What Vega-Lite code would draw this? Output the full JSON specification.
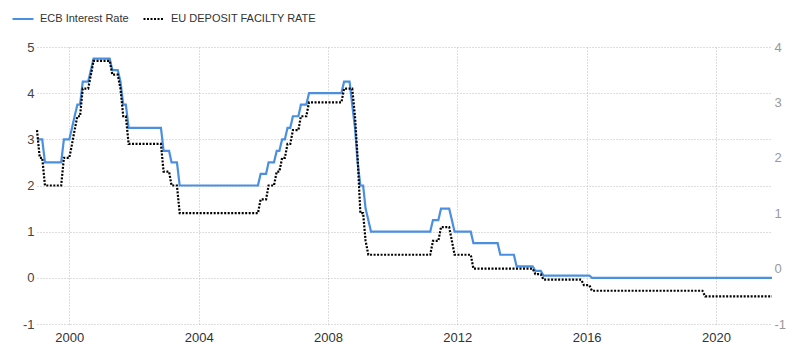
{
  "$schema": "https://vega.github.io/schema/vega-lite/v6.json",
  "width": 735,
  "height": 277,
  "autosize": {"type": "none"},
  "padding": {"left": 37, "top": 47, "right": 28, "bottom": 29},
  "background": "white",
  "config": {
    "view": {"stroke": null},
    "font": "Liberation Sans",
    "axis": {
      "domain": false,
      "ticks": false,
      "title": null,
      "grid": true,
      "gridColor": "#bdbdbd",
      "gridDash": [1, 2],
      "gridWidth": 1,
      "labelFont": "Liberation Sans",
      "labelFontSize": 13
    }
  },
  "data": {
    "values": [
      {"date": "1999-01-01", "series": "ECB Interest Rate", "value": 3.0},
      {"date": "1999-03-01", "series": "ECB Interest Rate", "value": 3.0},
      {"date": "1999-04-01", "series": "ECB Interest Rate", "value": 2.5},
      {"date": "1999-10-01", "series": "ECB Interest Rate", "value": 2.5},
      {"date": "1999-11-01", "series": "ECB Interest Rate", "value": 3.0},
      {"date": "2000-01-01", "series": "ECB Interest Rate", "value": 3.0},
      {"date": "2000-02-01", "series": "ECB Interest Rate", "value": 3.25},
      {"date": "2000-03-01", "series": "ECB Interest Rate", "value": 3.5},
      {"date": "2000-04-01", "series": "ECB Interest Rate", "value": 3.75},
      {"date": "2000-05-01", "series": "ECB Interest Rate", "value": 3.75},
      {"date": "2000-06-01", "series": "ECB Interest Rate", "value": 4.25},
      {"date": "2000-08-01", "series": "ECB Interest Rate", "value": 4.25},
      {"date": "2000-09-01", "series": "ECB Interest Rate", "value": 4.5},
      {"date": "2000-10-01", "series": "ECB Interest Rate", "value": 4.75},
      {"date": "2001-04-01", "series": "ECB Interest Rate", "value": 4.75},
      {"date": "2001-05-01", "series": "ECB Interest Rate", "value": 4.5},
      {"date": "2001-07-01", "series": "ECB Interest Rate", "value": 4.5},
      {"date": "2001-08-01", "series": "ECB Interest Rate", "value": 4.25},
      {"date": "2001-09-01", "series": "ECB Interest Rate", "value": 3.75},
      {"date": "2001-10-01", "series": "ECB Interest Rate", "value": 3.75},
      {"date": "2001-11-01", "series": "ECB Interest Rate", "value": 3.25},
      {"date": "2002-11-01", "series": "ECB Interest Rate", "value": 3.25},
      {"date": "2002-12-01", "series": "ECB Interest Rate", "value": 2.75},
      {"date": "2003-02-01", "series": "ECB Interest Rate", "value": 2.75},
      {"date": "2003-03-01", "series": "ECB Interest Rate", "value": 2.5},
      {"date": "2003-05-01", "series": "ECB Interest Rate", "value": 2.5},
      {"date": "2003-06-01", "series": "ECB Interest Rate", "value": 2.0},
      {"date": "2005-11-01", "series": "ECB Interest Rate", "value": 2.0},
      {"date": "2005-12-01", "series": "ECB Interest Rate", "value": 2.25},
      {"date": "2006-02-01", "series": "ECB Interest Rate", "value": 2.25},
      {"date": "2006-03-01", "series": "ECB Interest Rate", "value": 2.5},
      {"date": "2006-05-01", "series": "ECB Interest Rate", "value": 2.5},
      {"date": "2006-06-01", "series": "ECB Interest Rate", "value": 2.75},
      {"date": "2006-07-01", "series": "ECB Interest Rate", "value": 2.75},
      {"date": "2006-08-01", "series": "ECB Interest Rate", "value": 3.0},
      {"date": "2006-09-01", "series": "ECB Interest Rate", "value": 3.0},
      {"date": "2006-10-01", "series": "ECB Interest Rate", "value": 3.25},
      {"date": "2006-11-01", "series": "ECB Interest Rate", "value": 3.25},
      {"date": "2006-12-01", "series": "ECB Interest Rate", "value": 3.5},
      {"date": "2007-02-01", "series": "ECB Interest Rate", "value": 3.5},
      {"date": "2007-03-01", "series": "ECB Interest Rate", "value": 3.75},
      {"date": "2007-05-01", "series": "ECB Interest Rate", "value": 3.75},
      {"date": "2007-06-01", "series": "ECB Interest Rate", "value": 4.0},
      {"date": "2008-06-01", "series": "ECB Interest Rate", "value": 4.0},
      {"date": "2008-07-01", "series": "ECB Interest Rate", "value": 4.25},
      {"date": "2008-09-01", "series": "ECB Interest Rate", "value": 4.25},
      {"date": "2008-10-01", "series": "ECB Interest Rate", "value": 3.75},
      {"date": "2008-11-01", "series": "ECB Interest Rate", "value": 3.25},
      {"date": "2008-12-01", "series": "ECB Interest Rate", "value": 2.5},
      {"date": "2009-01-01", "series": "ECB Interest Rate", "value": 2.0},
      {"date": "2009-02-01", "series": "ECB Interest Rate", "value": 2.0},
      {"date": "2009-03-01", "series": "ECB Interest Rate", "value": 1.5},
      {"date": "2009-04-01", "series": "ECB Interest Rate", "value": 1.25},
      {"date": "2009-05-01", "series": "ECB Interest Rate", "value": 1.0},
      {"date": "2011-03-01", "series": "ECB Interest Rate", "value": 1.0},
      {"date": "2011-04-01", "series": "ECB Interest Rate", "value": 1.25},
      {"date": "2011-06-01", "series": "ECB Interest Rate", "value": 1.25},
      {"date": "2011-07-01", "series": "ECB Interest Rate", "value": 1.5},
      {"date": "2011-10-01", "series": "ECB Interest Rate", "value": 1.5},
      {"date": "2011-11-01", "series": "ECB Interest Rate", "value": 1.25},
      {"date": "2011-12-01", "series": "ECB Interest Rate", "value": 1.0},
      {"date": "2012-06-01", "series": "ECB Interest Rate", "value": 1.0},
      {"date": "2012-07-01", "series": "ECB Interest Rate", "value": 0.75},
      {"date": "2013-04-01", "series": "ECB Interest Rate", "value": 0.75},
      {"date": "2013-05-01", "series": "ECB Interest Rate", "value": 0.5},
      {"date": "2013-10-01", "series": "ECB Interest Rate", "value": 0.5},
      {"date": "2013-11-01", "series": "ECB Interest Rate", "value": 0.25},
      {"date": "2014-05-01", "series": "ECB Interest Rate", "value": 0.25},
      {"date": "2014-06-01", "series": "ECB Interest Rate", "value": 0.15},
      {"date": "2014-08-01", "series": "ECB Interest Rate", "value": 0.15},
      {"date": "2014-09-01", "series": "ECB Interest Rate", "value": 0.05},
      {"date": "2016-02-01", "series": "ECB Interest Rate", "value": 0.05},
      {"date": "2016-03-01", "series": "ECB Interest Rate", "value": 0.0},
      {"date": "2021-09-25", "series": "ECB Interest Rate", "value": 0.0},

      {"date": "1999-01-01", "series": "EU DEPOSIT FACILTY RATE", "value": 2.5},
      {"date": "1999-02-01", "series": "EU DEPOSIT FACILTY RATE", "value": 2.0},
      {"date": "1999-03-01", "series": "EU DEPOSIT FACILTY RATE", "value": 2.0},
      {"date": "1999-04-01", "series": "EU DEPOSIT FACILTY RATE", "value": 1.5},
      {"date": "1999-10-01", "series": "EU DEPOSIT FACILTY RATE", "value": 1.5},
      {"date": "1999-11-01", "series": "EU DEPOSIT FACILTY RATE", "value": 2.0},
      {"date": "2000-01-01", "series": "EU DEPOSIT FACILTY RATE", "value": 2.0},
      {"date": "2000-02-01", "series": "EU DEPOSIT FACILTY RATE", "value": 2.25},
      {"date": "2000-03-01", "series": "EU DEPOSIT FACILTY RATE", "value": 2.5},
      {"date": "2000-04-01", "series": "EU DEPOSIT FACILTY RATE", "value": 2.75},
      {"date": "2000-05-01", "series": "EU DEPOSIT FACILTY RATE", "value": 2.75},
      {"date": "2000-06-01", "series": "EU DEPOSIT FACILTY RATE", "value": 3.25},
      {"date": "2000-08-01", "series": "EU DEPOSIT FACILTY RATE", "value": 3.25},
      {"date": "2000-09-01", "series": "EU DEPOSIT FACILTY RATE", "value": 3.5},
      {"date": "2000-10-01", "series": "EU DEPOSIT FACILTY RATE", "value": 3.75},
      {"date": "2001-04-01", "series": "EU DEPOSIT FACILTY RATE", "value": 3.75},
      {"date": "2001-05-01", "series": "EU DEPOSIT FACILTY RATE", "value": 3.5},
      {"date": "2001-07-01", "series": "EU DEPOSIT FACILTY RATE", "value": 3.5},
      {"date": "2001-08-01", "series": "EU DEPOSIT FACILTY RATE", "value": 3.25},
      {"date": "2001-09-01", "series": "EU DEPOSIT FACILTY RATE", "value": 2.75},
      {"date": "2001-10-01", "series": "EU DEPOSIT FACILTY RATE", "value": 2.75},
      {"date": "2001-11-01", "series": "EU DEPOSIT FACILTY RATE", "value": 2.25},
      {"date": "2002-11-01", "series": "EU DEPOSIT FACILTY RATE", "value": 2.25},
      {"date": "2002-12-01", "series": "EU DEPOSIT FACILTY RATE", "value": 1.75},
      {"date": "2003-02-01", "series": "EU DEPOSIT FACILTY RATE", "value": 1.75},
      {"date": "2003-03-01", "series": "EU DEPOSIT FACILTY RATE", "value": 1.5},
      {"date": "2003-05-01", "series": "EU DEPOSIT FACILTY RATE", "value": 1.5},
      {"date": "2003-06-01", "series": "EU DEPOSIT FACILTY RATE", "value": 1.0},
      {"date": "2005-11-01", "series": "EU DEPOSIT FACILTY RATE", "value": 1.0},
      {"date": "2005-12-01", "series": "EU DEPOSIT FACILTY RATE", "value": 1.25},
      {"date": "2006-02-01", "series": "EU DEPOSIT FACILTY RATE", "value": 1.25},
      {"date": "2006-03-01", "series": "EU DEPOSIT FACILTY RATE", "value": 1.5},
      {"date": "2006-05-01", "series": "EU DEPOSIT FACILTY RATE", "value": 1.5},
      {"date": "2006-06-01", "series": "EU DEPOSIT FACILTY RATE", "value": 1.75},
      {"date": "2006-07-01", "series": "EU DEPOSIT FACILTY RATE", "value": 1.75},
      {"date": "2006-08-01", "series": "EU DEPOSIT FACILTY RATE", "value": 2.0},
      {"date": "2006-09-01", "series": "EU DEPOSIT FACILTY RATE", "value": 2.0},
      {"date": "2006-10-01", "series": "EU DEPOSIT FACILTY RATE", "value": 2.25},
      {"date": "2006-11-01", "series": "EU DEPOSIT FACILTY RATE", "value": 2.25},
      {"date": "2006-12-01", "series": "EU DEPOSIT FACILTY RATE", "value": 2.5},
      {"date": "2007-02-01", "series": "EU DEPOSIT FACILTY RATE", "value": 2.5},
      {"date": "2007-03-01", "series": "EU DEPOSIT FACILTY RATE", "value": 2.75},
      {"date": "2007-05-01", "series": "EU DEPOSIT FACILTY RATE", "value": 2.75},
      {"date": "2007-06-01", "series": "EU DEPOSIT FACILTY RATE", "value": 3.0},
      {"date": "2008-06-01", "series": "EU DEPOSIT FACILTY RATE", "value": 3.0},
      {"date": "2008-07-01", "series": "EU DEPOSIT FACILTY RATE", "value": 3.25},
      {"date": "2008-10-01", "series": "EU DEPOSIT FACILTY RATE", "value": 3.25},
      {"date": "2008-11-01", "series": "EU DEPOSIT FACILTY RATE", "value": 2.75},
      {"date": "2008-12-01", "series": "EU DEPOSIT FACILTY RATE", "value": 2.0},
      {"date": "2009-01-01", "series": "EU DEPOSIT FACILTY RATE", "value": 1.0},
      {"date": "2009-02-01", "series": "EU DEPOSIT FACILTY RATE", "value": 1.0},
      {"date": "2009-03-01", "series": "EU DEPOSIT FACILTY RATE", "value": 0.5},
      {"date": "2009-04-01", "series": "EU DEPOSIT FACILTY RATE", "value": 0.25},
      {"date": "2011-03-01", "series": "EU DEPOSIT FACILTY RATE", "value": 0.25},
      {"date": "2011-04-01", "series": "EU DEPOSIT FACILTY RATE", "value": 0.5},
      {"date": "2011-06-01", "series": "EU DEPOSIT FACILTY RATE", "value": 0.5},
      {"date": "2011-07-01", "series": "EU DEPOSIT FACILTY RATE", "value": 0.75},
      {"date": "2011-10-01", "series": "EU DEPOSIT FACILTY RATE", "value": 0.75},
      {"date": "2011-11-01", "series": "EU DEPOSIT FACILTY RATE", "value": 0.5},
      {"date": "2011-12-01", "series": "EU DEPOSIT FACILTY RATE", "value": 0.25},
      {"date": "2012-06-01", "series": "EU DEPOSIT FACILTY RATE", "value": 0.25},
      {"date": "2012-07-01", "series": "EU DEPOSIT FACILTY RATE", "value": 0.0},
      {"date": "2014-05-01", "series": "EU DEPOSIT FACILTY RATE", "value": 0.0},
      {"date": "2014-06-01", "series": "EU DEPOSIT FACILTY RATE", "value": -0.1},
      {"date": "2014-08-01", "series": "EU DEPOSIT FACILTY RATE", "value": -0.1},
      {"date": "2014-09-01", "series": "EU DEPOSIT FACILTY RATE", "value": -0.2},
      {"date": "2015-11-01", "series": "EU DEPOSIT FACILTY RATE", "value": -0.2},
      {"date": "2015-12-01", "series": "EU DEPOSIT FACILTY RATE", "value": -0.3},
      {"date": "2016-02-01", "series": "EU DEPOSIT FACILTY RATE", "value": -0.3},
      {"date": "2016-03-01", "series": "EU DEPOSIT FACILTY RATE", "value": -0.4},
      {"date": "2019-08-01", "series": "EU DEPOSIT FACILTY RATE", "value": -0.4},
      {"date": "2019-09-01", "series": "EU DEPOSIT FACILTY RATE", "value": -0.5},
      {"date": "2021-09-25", "series": "EU DEPOSIT FACILTY RATE", "value": -0.5}
    ]
  },
  "encoding": {
    "x": {
      "field": "date",
      "type": "temporal",
      "scale": {
        "type": "utc",
        "domain": [
          {"year": 1999, "month": 1, "date": 1, "utc": true},
          {"year": 2021, "month": 9, "date": 25, "utc": true}
        ]
      },
      "axis": {
        "values": [
          {"year": 2000, "utc": true},
          {"year": 2004, "utc": true},
          {"year": 2008, "utc": true},
          {"year": 2012, "utc": true},
          {"year": 2016, "utc": true},
          {"year": 2020, "utc": true}
        ],
        "format": "%Y",
        "formatType": "utc",
        "labelColor": "#333333",
        "labelPadding": 7
      }
    },
    "color": {
      "field": "series",
      "type": "nominal",
      "scale": {
        "domain": ["ECB Interest Rate", "EU DEPOSIT FACILTY RATE"],
        "range": ["#4a8fe0", "#000000"]
      },
      "legend": {
        "title": null,
        "orient": "none",
        "direction": "horizontal",
        "legendX": -26,
        "legendY": -40,
        "padding": 0,
        "labelFontSize": 11,
        "labelColor": "#333333",
        "labelFont": "Liberation Sans",
        "symbolType": "stroke",
        "symbolSize": 440,
        "symbolStrokeWidth": 2.2,
        "labelOffset": 5,
        "columnPadding": 10
      }
    },
    "strokeDash": {
      "field": "series",
      "type": "nominal",
      "scale": {
        "domain": ["ECB Interest Rate", "EU DEPOSIT FACILTY RATE"],
        "range": [[1, 0], [2, 1.5]]
      },
      "legend": {
        "title": null,
        "orient": "none",
        "direction": "horizontal",
        "legendX": -26,
        "legendY": -40,
        "padding": 0,
        "labelFontSize": 11,
        "labelColor": "#333333",
        "labelFont": "Liberation Sans",
        "symbolType": "stroke",
        "symbolSize": 440,
        "symbolStrokeWidth": 2.2,
        "labelOffset": 5,
        "columnPadding": 10
      }
    }
  },
  "layer": [
    {
      "transform": [{"filter": "datum.series === 'ECB Interest Rate'"}],
      "mark": {"type": "line", "strokeWidth": 2.2},
      "encoding": {
        "y": {
          "field": "value",
          "type": "quantitative",
          "scale": {"domain": [-1, 5], "nice": false, "zero": false},
          "axis": {
            "orient": "left",
            "values": [-1, 0, 1, 2, 3, 4, 5],
            "labelExpr": "'' + datum.value",
            "labelColor": "#444444",
            "labelPadding": 3
          }
        }
      }
    },
    {
      "transform": [{"filter": "datum.series === 'EU DEPOSIT FACILTY RATE'"}],
      "mark": {"type": "line", "strokeWidth": 2.2},
      "encoding": {
        "y": {
          "field": "value",
          "type": "quantitative",
          "scale": {"domain": [-1, 4], "nice": false, "zero": false},
          "axis": {
            "orient": "right",
            "values": [-1, 0, 1, 2, 3, 4],
            "labelExpr": "'' + datum.value",
            "labelColor": "#999999",
            "labelPadding": 2
          }
        }
      }
    }
  ],
  "resolve": {"scale": {"y": "independent"}}
}
